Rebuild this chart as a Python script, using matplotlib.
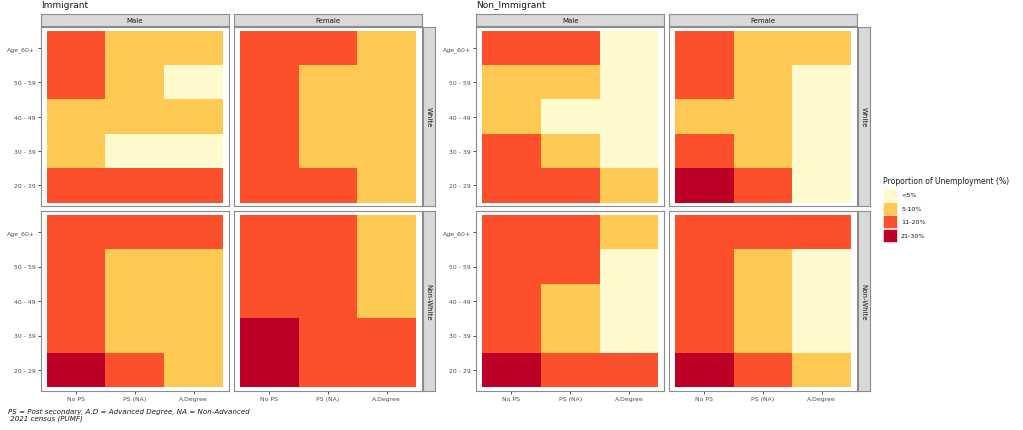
import matplotlib
matplotlib.use("Agg")
import matplotlib.pyplot as plt
from matplotlib.colors import ListedColormap, BoundaryNorm
from matplotlib.patches import Rectangle
import numpy as np

# ---------------- data ----------------
education = ["No PS", "PS (NA)", "A.Degree"]
age_groups = ["20 - 29", "30 - 39", "40 - 49", "50 - 59", "Age_60+"]   # bottom -> top
sexes = ["Male", "Female"]
races = ["White", "Non-White"]
groups = ["Immigrant", "Non_Immigrant"]
legend_labels = ["<5%", "5-10%", "11-20%", "21-30%"]
legend_colors = ["#FFFACD", "#FEC953", "#FC4F2B", "#BD0026"]

# category index (0:<5%, 1:5-10%, 2:11-20%, 3:21-30%), rows = age groups bottom->top,
# columns = education levels
imm_male_white = [[2, 2, 2], [1, 0, 0], [1, 1, 1], [2, 1, 0], [2, 1, 1]]
imm_female_white = [[2, 2, 1], [2, 1, 1], [2, 1, 1], [2, 1, 1], [2, 2, 1]]
imm_male_nonwhite = [[3, 2, 1], [2, 1, 1], [2, 1, 1], [2, 1, 1], [2, 2, 2]]
imm_female_nonwhite = [[3, 2, 2], [3, 2, 2], [2, 2, 1], [2, 2, 1], [2, 2, 1]]
non_male_white = [[2, 2, 1], [2, 1, 0], [1, 0, 0], [1, 1, 0], [2, 2, 0]]
non_female_white = [[3, 2, 0], [2, 1, 0], [1, 1, 0], [2, 1, 0], [2, 1, 1]]
non_male_nonwhite = [[3, 2, 2], [2, 1, 0], [2, 1, 0], [2, 2, 0], [2, 2, 1]]
non_female_nonwhite = [[3, 2, 1], [2, 1, 0], [2, 1, 0], [2, 1, 0], [2, 2, 2]]

panels = {
    ("Immigrant", "White", "Male"): imm_male_white,
    ("Immigrant", "White", "Female"): imm_female_white,
    ("Immigrant", "Non-White", "Male"): imm_male_nonwhite,
    ("Immigrant", "Non-White", "Female"): imm_female_nonwhite,
    ("Non_Immigrant", "White", "Male"): non_male_white,
    ("Non_Immigrant", "White", "Female"): non_female_white,
    ("Non_Immigrant", "Non-White", "Male"): non_male_nonwhite,
    ("Non_Immigrant", "Non-White", "Female"): non_female_nonwhite,
}

caption = "PS = Post secondary, A.D = Advanced Degree, NA = Non-Advanced\n 2021 census (PUMF)"

# ---------------- layout (pixels) ----------------
W, H = 1023, 431
fig = plt.figure(figsize=(W / 100, H / 100), dpi=100)
fig.patch.set_facecolor("white")

def ax_px(x0, y0, x1, y1):
    return fig.add_axes([x0 / W, 1 - y1 / H, (x1 - x0) / W, (y1 - y0) / H])

cmap = ListedColormap(legend_colors)
norm = BoundaryNorm(np.arange(-0.5, len(legend_colors) + 0.5, 1), cmap.N)

border_col = "#8C8C8C"
strip_fc = "#D9D9D9"
tick_col = "#4D4D4D"

layouts = {
    "Immigrant": dict(cols=[(40.7, 229.0), (234.0, 421.7)], strip=(422.7, 435.0), title_x=41),
    "Non_Immigrant": dict(cols=[(476.0, 664.3), (669.0, 857.0)], strip=(857.6, 870.0), title_x=476),
}
rows_y = [(28.3, 207.0), (212.3, 391.7)]
top_strip_y = (15.0, 27.2)

for g in groups:
    L = layouts[g]
    fig.text(L["title_x"] / W, 1 - 5.5 / H, g, fontsize=6.5, color="#1A1A1A",
             ha="left", va="center")
    for ci, sex in enumerate(sexes):
        x0, x1 = L["cols"][ci]
        # top strip
        sax = ax_px(x0, top_strip_y[0], x1, top_strip_y[1])
        sax.set_facecolor(strip_fc)
        sax.set_xticks([]); sax.set_yticks([])
        for s in sax.spines.values():
            s.set_color(border_col); s.set_linewidth(0.8)
        sax.text(0.5, 0.5, sex, transform=sax.transAxes, ha="center", va="center",
                 fontsize=5.0, color="#1A1A1A")
        for ri, race in enumerate(races):
            y0, y1 = rows_y[ri]
            ax = ax_px(x0, y0, x1, y1)
            data = np.array(panels[(g, race, sex)])
            ax.pcolormesh(np.arange(-0.5, len(education)), np.arange(-0.5, len(age_groups)),
                          data, cmap=cmap, norm=norm, edgecolors="none",
                          linewidth=0, antialiased=False)
            ax.set_xlim(-0.6, len(education) - 0.4)
            ax.set_ylim(-0.6, len(age_groups) - 0.4)
            for s in ax.spines.values():
                s.set_color(border_col); s.set_linewidth(0.8)
            ax.tick_params(length=2.2, width=0.6, color="#333333", labelsize=4.4,
                           labelcolor=tick_col, pad=1.5)
            ax.set_xticks(range(len(education)))
            ax.set_yticks(range(len(age_groups)))
            if ri == len(races) - 1:
                ax.set_xticklabels(education)
            else:
                ax.set_xticklabels([]); ax.tick_params(axis="x", length=0)
            if ci == 0:
                ax.set_yticklabels(age_groups)
            else:
                ax.set_yticklabels([]); ax.tick_params(axis="y", length=0)
    # right strips
    for ri, race in enumerate(races):
        y0, y1 = rows_y[ri]
        sx0, sx1 = L["strip"]
        rax = ax_px(sx0, y0, sx1, y1)
        rax.set_facecolor(strip_fc)
        rax.set_xticks([]); rax.set_yticks([])
        for s in rax.spines.values():
            s.set_color(border_col); s.set_linewidth(0.8)
        rax.text(0.5, 0.5, race, transform=rax.transAxes, ha="center", va="center",
                 rotation=-90, fontsize=5.0, color="#1A1A1A")

# legend
fig.text(883 / W, 1 - 181.5 / H, "Proportion of Unemployment (%)", fontsize=5.5,
         color="#1A1A1A", ha="left", va="center")
key_top = 189.0
key_h = 13.6
for i, (lab, col) in enumerate(zip(legend_labels, legend_colors)):
    ky = key_top + i * key_h
    fig.patches.append(Rectangle((883 / W, 1 - (ky + key_h - 0.6) / H), 13.6 / W,
                                 (key_h - 0.6) / H, transform=fig.transFigure,
                                 facecolor=col, edgecolor="white", linewidth=0.4))
    fig.text(901 / W, 1 - (ky + key_h / 2) / H, lab, fontsize=4.6, color="#1A1A1A",
             ha="left", va="center")

# caption
fig.text(8 / W, 1 - 408.5 / H, caption, fontsize=5.1, style="italic", color="#1A1A1A",
         ha="left", va="top", linespacing=1.2)

fig.savefig("out.png", dpi=100, facecolor="white")
